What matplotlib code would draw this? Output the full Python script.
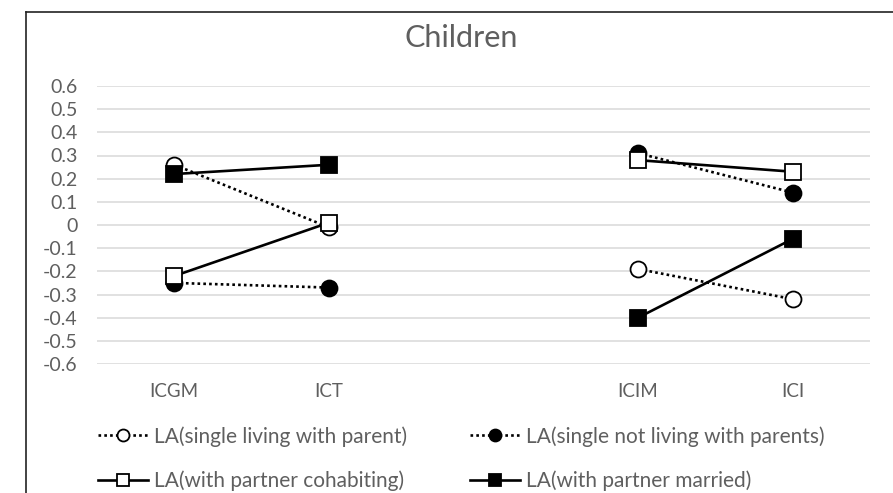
import matplotlib
matplotlib.use("Agg")
import matplotlib.pyplot as plt
from matplotlib.lines import Line2D
import numpy as np

plt.rcParams['font.family'] = ['Lato', 'DejaVu Sans']

# categories (third slot is an empty gap between the two pairs)
categories = ["ICGM", "ICT", "", "ICIM", "ICI"]
y_ticks = [-0.6, -0.5, -0.4, -0.3, -0.2, -0.1, 0, 0.1, 0.2, 0.3, 0.4, 0.5, 0.6]
y_tick_labels = ["-0.6", "-0.5", "-0.4", "-0.3", "-0.2", "-0.1", "0",
                 "0.1", "0.2", "0.3", "0.4", "0.5", "0.6"]

single_with_parent = [0.26, -0.01, np.nan, -0.19, -0.32]
single_not_with_parents = [-0.25, -0.27, np.nan, 0.31, 0.14]
partner_cohabiting = [-0.22, 0.01, np.nan, 0.28, 0.23]
partner_married = [0.22, 0.26, np.nan, -0.40, -0.06]

TEXT = '#5F5F5F'
GRID = '#D9D9D9'

fig = plt.figure(figsize=(8.93, 4.93), dpi=100)
ax = fig.add_axes([97 / 893, 1 - 364 / 493, (870 - 97) / 893, (364 - 86) / 493])

x = np.arange(len(categories))
dot = (0, (1, 1.2))

series = [
    (single_with_parent, "LA(single living with parent)", dot, 'o', 'white'),
    (single_not_with_parents, "LA(single not living with parents)", dot, 'o', 'black'),
    (partner_cohabiting, "LA(with partner cohabiting)", '-', 's', 'white'),
    (partner_married, "LA(with partner married)", '-', 's', 'black'),
]

handles = []
for i, (vals, label, ls, mk, fc) in enumerate(series):
    h, = ax.plot(x, vals, color='black', linestyle=ls, linewidth=1.9,
                 marker=mk, markersize=11.5, markerfacecolor=fc,
                 markeredgecolor='black', markeredgewidth=1.3,
                 label=label, zorder=3 + i)
    handles.append(h)

ax.set_xlim(-0.5, len(categories) - 0.5)
ax.set_ylim(-0.6, 0.6)
ax.set_xticks(x)
ax.set_xticklabels(categories)
ax.set_yticks(y_ticks)
ax.set_yticklabels(y_tick_labels)
ax.tick_params(axis='y', length=0, pad=14, labelsize=14, labelcolor=TEXT)
ax.tick_params(axis='x', length=0, pad=14, labelsize=13.5, labelcolor=TEXT)
ax.grid(axis='y', color=GRID, linewidth=1.1)
ax.grid(axis='x', visible=False)
ax.set_axisbelow(True)
for spine in ax.spines.values():
    spine.set_visible(False)

fig.text(461 / 893, 1 - 38 / 493, "Children", ha='center', va='center',
         fontsize=22, color=TEXT)

# legend is filled row by row in the reference, matplotlib fills columns
order = [0, 2, 1, 3]
fig.legend([handles[k] for k in order], [series[k][1] for k in order],
           loc='upper left', bbox_to_anchor=(98 / 893, 1 - 426 / 493),
           ncol=2, frameon=False, fontsize=15, labelcolor=TEXT,
           handlelength=2.4, handletextpad=0.3, columnspacing=3.0,
           labelspacing=1.15, numpoints=1, borderpad=0, borderaxespad=0,
           markerscale=0.75)

# chart frame (only top and left edges visible in the crop)
fig.add_artist(Line2D([26 / 893, 1], [1 - 12 / 493, 1 - 12 / 493],
                      color='#222222', linewidth=1.2))
fig.add_artist(Line2D([26 / 893, 26 / 893], [0, 1 - 12 / 493],
                      color='#222222', linewidth=1.2))

fig.savefig("out.png", dpi=100)
